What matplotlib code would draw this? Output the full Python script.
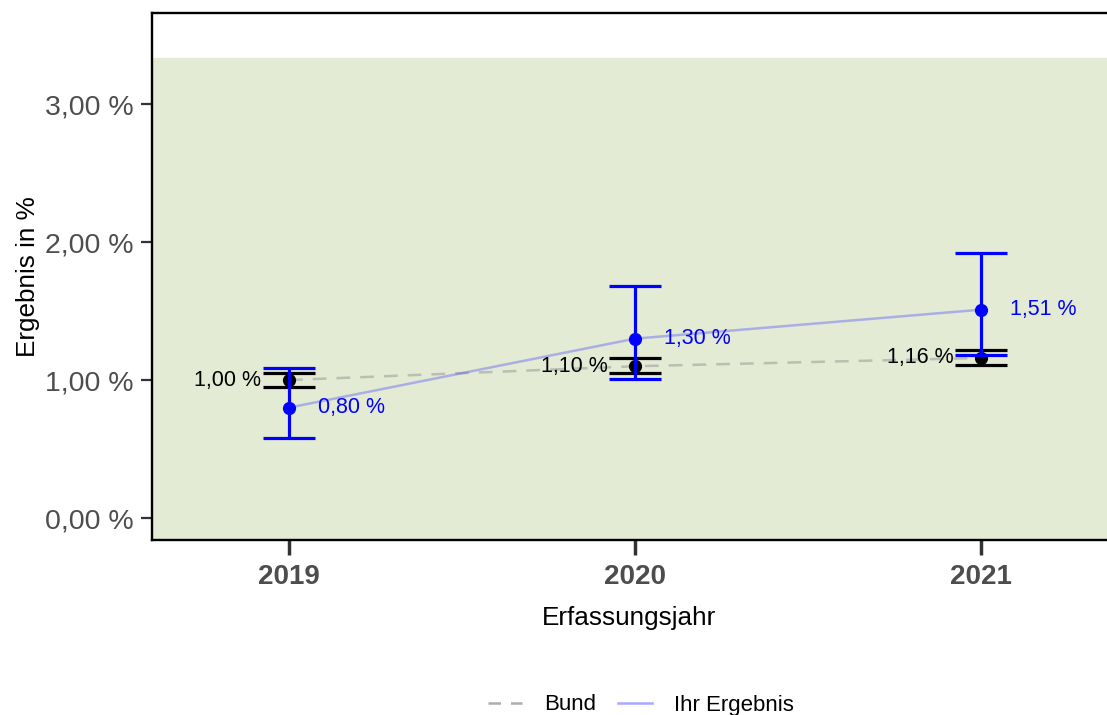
import matplotlib.pyplot as plt
from matplotlib.lines import Line2D

plt.rcParams['font.family'] = ['Liberation Sans', 'DejaVu Sans']

# Werte
years = [2019, 2020, 2021]
bund = [1.00, 1.10, 1.16]
bund_lo = [0.95, 1.05, 1.11]
bund_hi = [1.05, 1.16, 1.22]
ihr = [0.80, 1.30, 1.51]
ihr_lo = [0.58, 1.01, 1.18]
ihr_hi = [1.09, 1.68, 1.92]
ref_band = (-0.5, 3.333)
y_ticks = [0, 1, 2, 3]


def fmt(v):
    return f"{v:.2f}".replace('.', ',') + " %"


fig = plt.figure(figsize=(11.07, 7.15), dpi=100)
ax = fig.add_axes([0.1373, 0.2448, 0.8627, 0.737])

ax.axhspan(ref_band[0], ref_band[1], color='#e3ebd4', zorder=0)

ax.plot(years, bund, color='#999999', alpha=0.55, lw=1.8, ls=(0, (5.5, 4)), zorder=2)
ax.plot(years, ihr, color='#4040ff', alpha=0.35, lw=1.8, zorder=2)

cap = 0.075
for x, y, lo, hi in zip(years, bund, bund_lo, bund_hi):
    ax.vlines(x, lo, hi, color='black', lw=2.3, zorder=3)
    ax.hlines([lo, hi], x - cap, x + cap, color='black', lw=2.3, zorder=3)
    ax.plot(x, y, 'o', color='black', ms=8.5, zorder=3)
    ax.text(x - 0.08, y, fmt(y), ha='right', va='center', fontsize=15.5,
            color='black', zorder=5)

for x, y, lo, hi in zip(years, ihr, ihr_lo, ihr_hi):
    ax.vlines(x, lo, hi, color='blue', lw=2.3, zorder=4)
    ax.hlines([lo, hi], x - cap, x + cap, color='blue', lw=2.3, zorder=4)
    ax.plot(x, y, 'o', color='blue', ms=8.5, zorder=4)
    ax.text(x + 0.085, y, fmt(y), ha='left', va='center', fontsize=15.5,
            color='blue', zorder=5)

ax.set_xlim(2018.604, 2021.364)
ax.set_ylim(-0.159, 3.66)
ax.set_xticks(years)
ax.set_xticklabels([str(y) for y in years], fontsize=20, fontweight='bold',
                   color='#4d4d4d')
ax.set_yticks(y_ticks)
ax.set_yticklabels([fmt(v) for v in y_ticks], fontsize=20.5, color='#4d4d4d')
ax.tick_params(axis='y', length=8, width=1.6, color='#333333', pad=5)
ax.tick_params(axis='x', length=11, width=2.5, color='#333333', pad=6)

for side in ['left', 'top', 'bottom']:
    ax.spines[side].set_linewidth(1.7)
ax.spines['right'].set_visible(False)

ax.set_xlabel('Erfassungsjahr', fontsize=18.8, labelpad=12)
ax.set_ylabel('Ergebnis in %', fontsize=18.8, labelpad=4)

handles = [
    Line2D([], [], color='#999999', alpha=0.8, lw=1.8, ls=(0, (5, 4))),
    Line2D([], [], color='#4040ff', alpha=0.45, lw=1.8),
]
fig.legend(handles, ['Bund', 'Ihr Ergebnis'], loc='center',
           bbox_to_anchor=(641 / 1107, 1 - 705 / 715), ncol=2, frameon=False,
           fontsize=16, handlelength=1.5, handletextpad=1.0,
           columnspacing=1.0)

fig.savefig('out.png', dpi=100)
